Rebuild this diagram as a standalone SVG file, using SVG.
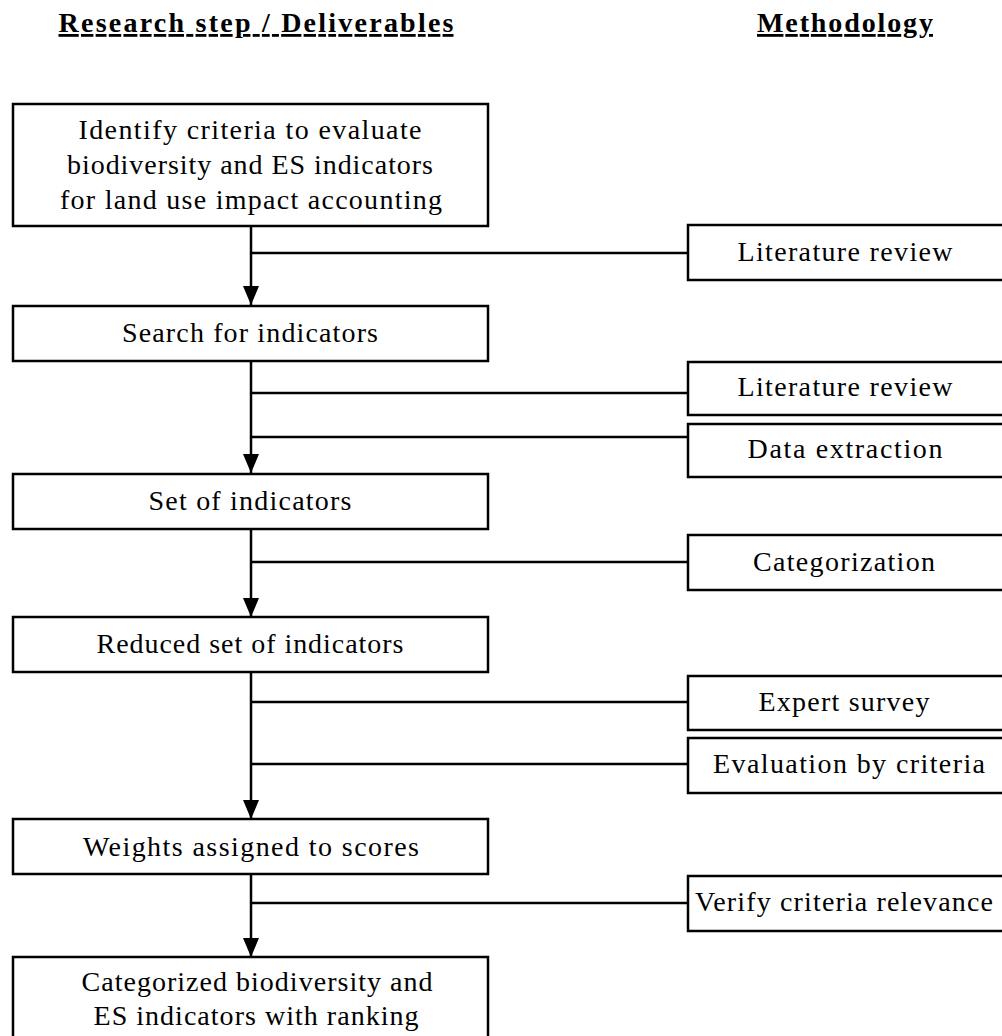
<svg xmlns="http://www.w3.org/2000/svg" width="1002" height="1036" viewBox="0 0 1002 1036">
<defs>
<style>
.box{fill:#fff;stroke:#000;stroke-width:2.5}
.t{font-family:"Liberation Serif","Times New Roman",serif;font-size:28px;fill:#000;text-anchor:middle}
.h{font-family:"Liberation Serif","Times New Roman",serif;font-size:28px;font-weight:bold;fill:#000;text-anchor:middle;text-decoration:underline}
.ln{fill:none;stroke:#000;stroke-width:2.5}
</style>
<marker id="arr" markerWidth="19" markerHeight="16" refX="19" refY="8" orient="auto" markerUnits="userSpaceOnUse" viewBox="0 0 19 16">
<path d="M0,0 L19,8 L0,16 Z" fill="#000"/>
</marker>
</defs>
<rect width="1002" height="1036" fill="#fff"/>
<g id="headers">
<text class="h" x="256" y="32" textLength="395" lengthAdjust="spacing">Research step / Deliverables</text>
<text class="h" x="845" y="32" textLength="176" lengthAdjust="spacing">Methodology</text>
</g>
<g id="connectors">
<line class="ln" x1="251" y1="226" x2="251" y2="305" marker-end="url(#arr)"/>
<line class="ln" x1="251" y1="361" x2="251" y2="473" marker-end="url(#arr)"/>
<line class="ln" x1="251" y1="529" x2="251" y2="617" marker-end="url(#arr)"/>
<line class="ln" x1="251" y1="672" x2="251" y2="819" marker-end="url(#arr)"/>
<line class="ln" x1="251" y1="874" x2="251" y2="957" marker-end="url(#arr)"/>
<line class="ln" x1="251" y1="253" x2="688" y2="253"/>
<line class="ln" x1="251" y1="393" x2="688" y2="393"/>
<line class="ln" x1="251" y1="437" x2="688" y2="437"/>
<line class="ln" x1="251" y1="562" x2="688" y2="562"/>
<line class="ln" x1="251" y1="702" x2="688" y2="702"/>
<line class="ln" x1="251" y1="764" x2="688" y2="764"/>
<line class="ln" x1="251" y1="903" x2="688" y2="903"/>
</g>
<g id="step1">
<rect class="box" x="13" y="104" width="475" height="122"/>
<text class="t" x="250" y="139" textLength="343" lengthAdjust="spacing">Identify criteria to evaluate</text>
<text class="t" x="250" y="174" textLength="366" lengthAdjust="spacing">biodiversity and ES indicators</text>
<text class="t" x="251" y="209" textLength="382" lengthAdjust="spacing">for land use impact accounting</text>
</g>
<g id="step2">
<rect class="box" x="13" y="306" width="475" height="55"/>
<text class="t" x="250" y="342" textLength="256" lengthAdjust="spacing">Search for indicators</text>
</g>
<g id="step3">
<rect class="box" x="13" y="474" width="475" height="55"/>
<text class="t" x="250" y="510" textLength="203" lengthAdjust="spacing">Set of indicators</text>
</g>
<g id="step4">
<rect class="box" x="13" y="617" width="475" height="55"/>
<text class="t" x="250" y="653" textLength="307" lengthAdjust="spacing">Reduced set of indicators</text>
</g>
<g id="step5">
<rect class="box" x="13" y="819" width="475" height="55"/>
<text class="t" x="251" y="856" textLength="336" lengthAdjust="spacing">Weights assigned to scores</text>
</g>
<g id="step6">
<rect class="box" x="13" y="957" width="475" height="100"/>
<text class="t" x="257" y="991" textLength="351" lengthAdjust="spacing">Categorized biodiversity and</text>
<text class="t" x="256" y="1025" textLength="325" lengthAdjust="spacing">ES indicators with ranking</text>
</g>
<g id="m-literature1">
<rect class="box" x="688" y="225" width="330" height="55"/>
<text class="t" x="845" y="261" textLength="215" lengthAdjust="spacing">Literature review</text>
</g>
<g id="m-literature2">
<rect class="box" x="688" y="362" width="330" height="53"/>
<text class="t" x="845" y="396" textLength="215" lengthAdjust="spacing">Literature review</text>
</g>
<g id="m-data">
<rect class="box" x="688" y="424" width="330" height="53"/>
<text class="t" x="845" y="458" textLength="195" lengthAdjust="spacing">Data extraction</text>
</g>
<g id="m-categorization">
<rect class="box" x="688" y="535" width="330" height="55"/>
<text class="t" x="844" y="571" textLength="182" lengthAdjust="spacing">Categorization</text>
</g>
<g id="m-expert">
<rect class="box" x="688" y="676" width="330" height="54"/>
<text class="t" x="844" y="711" textLength="171" lengthAdjust="spacing">Expert survey</text>
</g>
<g id="m-evaluation">
<rect class="box" x="688" y="738" width="330" height="55"/>
<text class="t" x="849" y="773" textLength="272" lengthAdjust="spacing">Evaluation by criteria</text>
</g>
<g id="m-verify">
<rect class="box" x="688" y="876" width="330" height="55"/>
<text class="t" x="844" y="911" textLength="298" lengthAdjust="spacing">Verify criteria relevance</text>
</g>
</svg>
